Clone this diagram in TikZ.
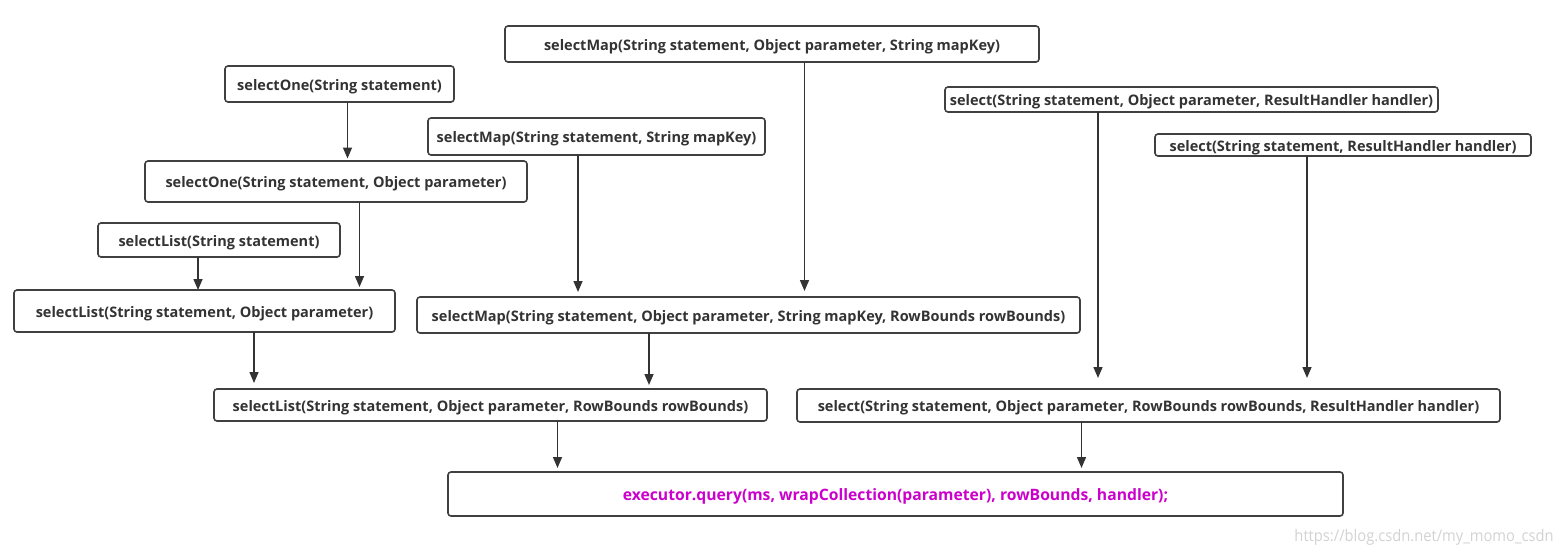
\documentclass[tikz,border=0pt]{standalone}
\usepackage{fontspec}
\setmainfont{Open Sans}
\usetikzlibrary{arrows.meta, positioning}
\definecolor{boxgray}{HTML}{404040}
\definecolor{textgray}{HTML}{333333}
\definecolor{linegray}{HTML}{333333}
\definecolor{callpink}{HTML}{cc00cc}
\definecolor{markgray}{HTML}{d2d2d2}

\begin{document}
\begin{tikzpicture}[
  x=1pt, y=1pt,
  box/.style={rectangle, rounded corners=3pt, draw=boxgray, line width=1.6pt, fill=white, text=textgray, font=\fontsize{14.5}{16}\selectfont\bfseries, inner sep=2pt, outer sep=0pt, text height=12.5pt, text depth=0.5pt},
  arr/.style={-{Triangle[length=11pt, width=9pt]}, line width=1.5pt, color=linegray, shorten >=4pt},
]
\useasboundingbox (0,0) rectangle (1567,-555);

%% selectMap
\node[box, minimum width=534pt, minimum height=36pt] (map3) at (772,-44) {selectMap(String statement, Object parameter, String mapKey)};
\node[box, below=56pt of map3, xshift=-175.5pt, minimum width=337pt, minimum height=37pt] (map2) {selectMap(String statement, String mapKey)};
\node[box, below=142pt of map2, xshift=152pt, minimum width=663pt, minimum height=36pt] (map4) {selectMap(String statement, Object parameter, String mapKey, RowBounds rowBounds)};

%% selectOne
\node[box, below left=4pt and 51pt of map3.south west, minimum width=229pt, minimum height=36pt] (one1) {selectOne(String statement)};
\node[box, below=59pt of one1, xshift=-3.5pt, minimum width=382pt, minimum height=41pt] (one2) {selectOne(String statement, Object parameter)};

%% selectList
\node[box, below=21pt of one2, xshift=-117pt, minimum width=242pt, minimum height=34pt] (list1) {selectList(String statement)};
\node[box, below=33pt of list1, xshift=-14.5pt, minimum width=381pt, minimum height=42pt] (list2) {selectList(String statement, Object parameter)};
\node[box, below=57pt of list2, xshift=286pt, minimum width=553pt, minimum height=32pt] (list3) {selectList(String statement, Object parameter, RowBounds rowBounds)};

%% select
\node[box, below right=25pt and -94pt of map3.south east, minimum width=493pt, minimum height=25pt] (sel3) {select(String statement, Object parameter, ResultHandler handler)};
\node[box, below right=22pt and 210pt of sel3.south west, minimum width=376pt, minimum height=22pt] (sel2) {select(String statement, ResultHandler handler)};
\node[box, below=277pt of sel3, xshift=-43pt, minimum width=703pt, minimum height=33pt] (sel4) {select(String statement, Object parameter, RowBounds rowBounds, ResultHandler handler)};

%% Executor
\node[box, below=51pt of list3, xshift=405pt, minimum width=895pt, minimum height=44pt, text=callpink, font=\fontsize{15.7}{17}\selectfont\bfseries] (exec) {executor.query(ms, wrapCollection(parameter), rowBounds, handler);};

%% Watermark
\node[font=\fontsize{16}{18}\selectfont, text=markgray, xscale=0.92, transform shape, anchor=east] (mark) at (1557,-537) {https://blog.csdn.net/my\_momo\_csdn};

%% Arrows
\draw[arr, shorten >=2.5pt] ([xshift=8pt]one1.south) -- ([xshift=8pt]one1.south |- one2.north);
\draw[arr, shorten >=3pt] ([xshift=23.5pt]one2.south) -- ([xshift=23.5pt]one2.south |- list2.north);
\draw[arr, shorten >=0pt] ([xshift=-21pt]list1.south) -- ([xshift=-21pt]list1.south |- list2.north);
\draw[arr, shorten >=6pt] ([xshift=49.5pt]list2.south) -- ([xshift=49.5pt]list2.south |- list3.north);
\draw[arr, shorten >=5pt] ([xshift=-18.5pt]map2.south) -- ([xshift=-18.5pt]map2.south |- map4.north);
\draw[arr, shorten >=6pt] ([xshift=32.5pt]map3.south) -- ([xshift=32.5pt]map3.south |- map4.north);
\draw[arr] ([xshift=-99.5pt]map4.south) -- ([xshift=-99.5pt]map4.south |- list3.north);
\draw[arr, shorten >=11pt] ([xshift=-93.5pt]sel3.south) -- ([xshift=-93.5pt]sel3.south |- sel4.north);
\draw[arr, shorten >=11pt] ([xshift=-36pt]sel2.south) -- ([xshift=-36pt]sel2.south |- sel4.north);
\draw[arr] ([xshift=67pt]list3.south) -- ([xshift=67pt]list3.south |- exec.north);
\draw[arr] ([xshift=-67pt]sel4.south) -- ([xshift=-67pt]sel4.south |- exec.north);

\end{tikzpicture}
\end{document}
